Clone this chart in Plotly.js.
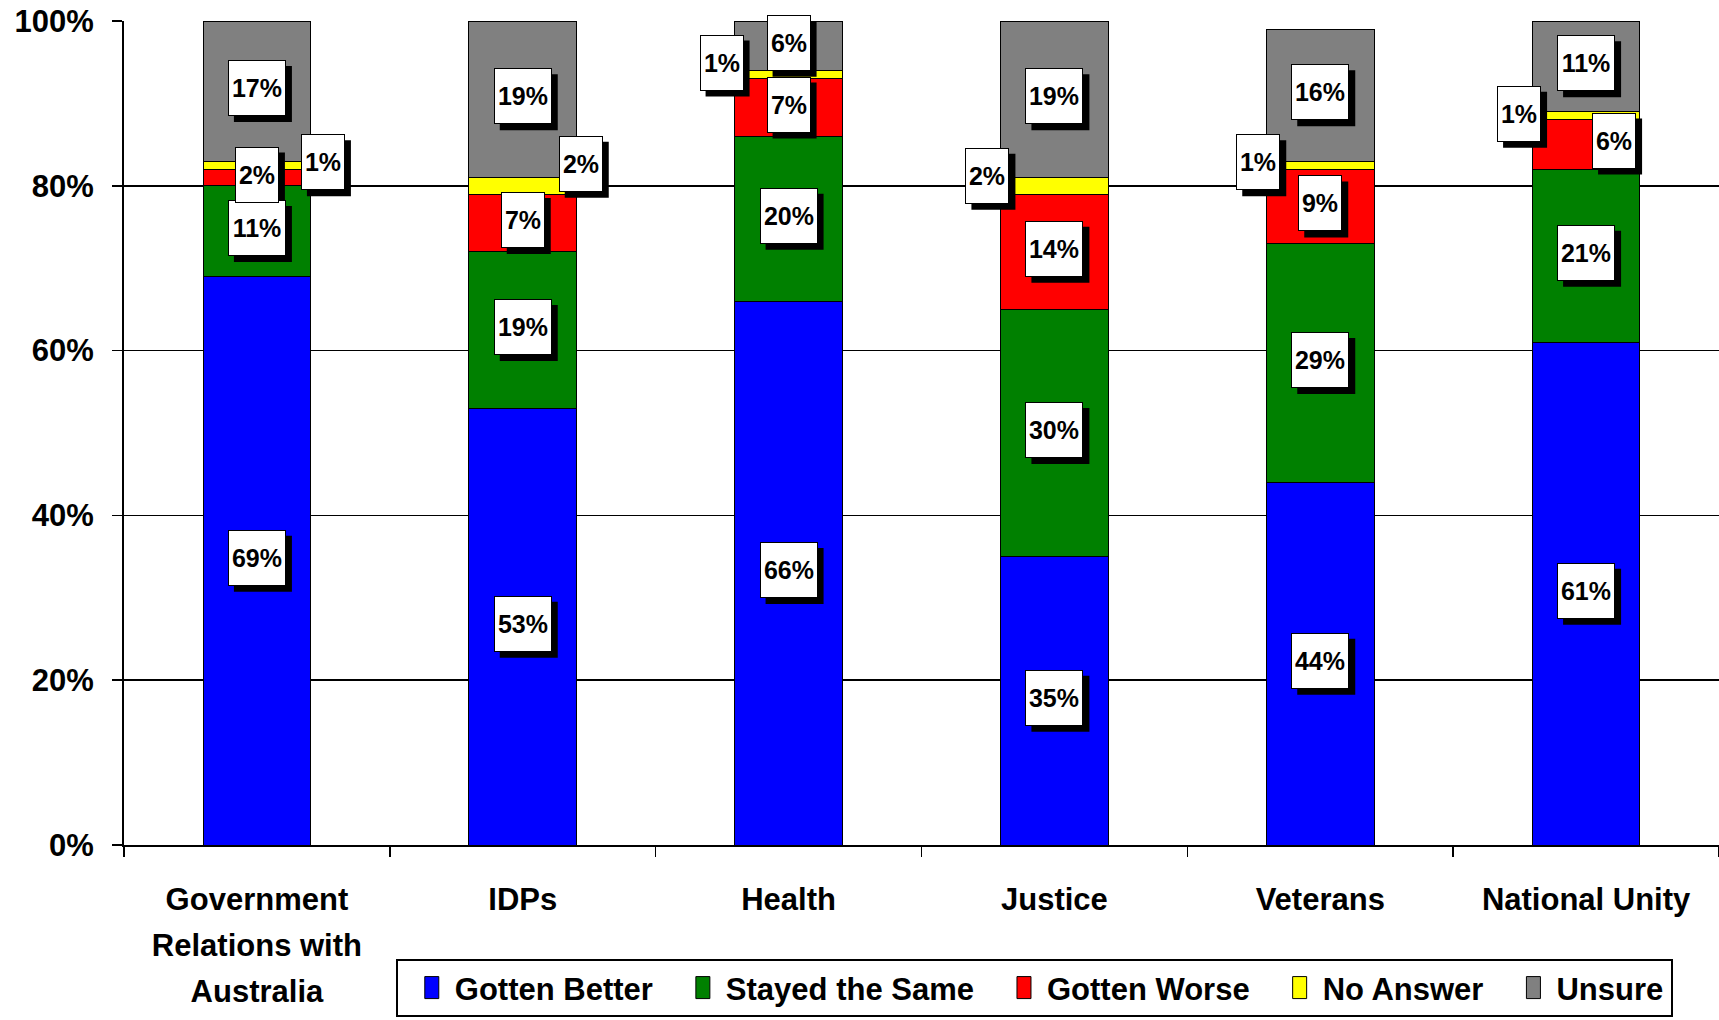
<!DOCTYPE html>
<html>
<head>
<meta charset="utf-8">
<script src="https://cdn.plot.ly/plotly-3.0.1.min.js"></script>
<style>
  html, body { margin: 0; padding: 0; background: #ffffff; }
  #chart { width: 1719px; height: 1020px; }
</style>
</head>
<body>
<div id="chart"></div>
<script>
// ---- data ----
var categories = ['Government<br>Relations with<br>Australia', 'IDPs', 'Health', 'Justice', 'Veterans', 'National Unity'];
var seriesNames = ['Gotten Better', 'Stayed the Same', 'Gotten Worse', 'No Answer', 'Unsure'];
var gottenBetter = [69, 53, 66, 35, 44, 61];
var stayedSame   = [11, 19, 20, 30, 29, 21];
var gottenWorse  = [2, 7, 7, 14, 9, 6];
var noAnswer     = [1, 2, 1, 2, 1, 1];
var unsure       = [17, 19, 6, 19, 16, 11];
var yTickValues  = [0, 20, 40, 60, 80, 100];
var yTickLabels  = ['0%', '20%', '40%', '60%', '80%', '100%'];

// ---- styling ----
var seriesValues = [gottenBetter, stayedSame, gottenWorse, noAnswer, unsure];
var seriesColors = ['#0000ff', '#008000', '#ff0000', '#ffff00', '#808080'];
var FONT = 'Liberation Sans, Arial, Helvetica, sans-serif';

// label nudges (pixels) for labels of thin segments: key = seriesIndex + '-' + categoryIndex
var labelShift = {
  '3-0': [66, 3],
  '3-1': [58, 22],
  '3-2': [-67, 12],
  '3-3': [-67, 10],
  '3-4': [-62, 3],
  '2-5': [28, 4],
  '3-5': [-67, 2]
};
var BOX_H = 54, SHADOW = 6;

var traces = seriesValues.map(function (vals, i) {
  return {
    type: 'bar',
    name: seriesNames[i],
    x: categories,
    y: vals,
    marker: { color: seriesColors[i], line: { color: '#000000', width: 1 } },
    hoverinfo: 'skip'
  };
});

var shapes = [], boxes = [];
var cum = categories.map(function () { return 0; });
seriesValues.forEach(function (vals, i) {
  vals.forEach(function (v, j) {
    var yc = cum[j] + v / 2;
    cum[j] += v;
    var s = labelShift[i + '-' + j] || [0, 3];
    var txt = v + '%';
    var w = txt.length > 2 ? 56 : 42;
    // drop shadow (pixel-sized rectangle anchored at the segment centre)
    shapes.push({
      type: 'rect', xref: 'x', yref: 'y', layer: 'above',
      xsizemode: 'pixel', ysizemode: 'pixel',
      xanchor: j, yanchor: yc,
      x0: s[0] - (w + 2) / 2 + SHADOW, x1: s[0] + (w + 2) / 2 + SHADOW,
      y0: s[1] - (BOX_H + 2) / 2 - SHADOW, y1: s[1] + (BOX_H + 2) / 2 - SHADOW,
      fillcolor: '#000000', line: { width: 0 }
    });
    boxes.push({
      x: categories[j], y: yc, xref: 'x', yref: 'y',
      text: txt, showarrow: false,
      width: w, height: BOX_H, borderpad: 0, borderwidth: 1,
      xshift: s[0], yshift: s[1],
      bgcolor: '#ffffff', bordercolor: '#000000',
      font: { family: FONT, size: 25, color: '#000000', weight: 'bold' }
    });
  });
});

var layout = {
  width: 1719, height: 1020,
  margin: { l: 124, r: 0, t: 21, b: 175, pad: 0 },
  paper_bgcolor: '#ffffff', plot_bgcolor: '#ffffff',
  font: { family: FONT, size: 31, color: '#000000', weight: 'bold' },
  barmode: 'stack',
  bargap: 0.595,
  showlegend: true,
  legend: {
    orientation: 'h', traceorder: 'normal',
    xref: 'container', yref: 'container',
    x: 0.6043, xanchor: 'center', y: 0.003, yanchor: 'bottom',
    bgcolor: '#ffffff', bordercolor: '#000000', borderwidth: 2,
    font: { family: FONT, size: 31, color: '#000000', weight: 'bold' },
    itemwidth: 58
  },
  xaxis: {
    type: 'category',
    tickson: 'boundaries',
    ticks: 'outside', ticklen: 10, tickwidth: 1.5, tickcolor: '#000000',
    showline: true, linecolor: '#000000', linewidth: 2,
    showgrid: false,
    ticklabelstandoff: 26,
    tickfont: { family: FONT, size: 31, color: '#000000', weight: 'bold' }
  },
  yaxis: {
    range: [0, 100],
    tickmode: 'array',
    tickvals: yTickValues,
    ticktext: yTickLabels,
    ticks: 'outside', ticklen: 10, tickwidth: 1.5, tickcolor: '#000000',
    showline: true, linecolor: '#000000', linewidth: 2,
    showgrid: true, gridcolor: '#000000', gridwidth: 1.5,
    zeroline: false,
    ticklabelstandoff: 12,
    tickfont: { family: FONT, size: 31, color: '#000000', weight: 'bold' }
  },
  shapes: shapes,
  annotations: boxes
};

Plotly.newPlot('chart', traces, layout, { staticPlot: true, displayModeBar: false }).then(function (gd) {
  // taller legend swatches like the reference
  gd.querySelectorAll('.legend .legendpoints path').forEach(function (p) {
    p.setAttribute('d', 'M7,11H-7V-11H7Z');
  });
  // bring legend text closer to its swatch, and trim the box's right side
  gd.querySelectorAll('.legend text.legendtext').forEach(function (t) {
    var x = parseFloat(t.getAttribute('x')) || 0;
    t.setAttribute('x', x - 11);
    t.querySelectorAll('tspan').forEach(function (ts) {
      if (ts.getAttribute('x') !== null) ts.setAttribute('x', x - 11);
    });
  });
  var bg = gd.querySelector('.legend rect.bg');
  if (bg) {
    var w = parseFloat(bg.getAttribute('width'));
    if (!isNaN(w)) bg.setAttribute('width', w - 9);
  }
  // wider line spacing in the multi-line category label
  gd.querySelectorAll('.xtick text tspan.line').forEach(function (t) {
    var dy = t.getAttribute('dy');
    if (dy && /em$/.test(dy)) {
      var v = parseFloat(dy);
      t.setAttribute('dy', (v * 1.48 / 1.3) + 'em');
    }
  });
});
</script>
</body>
</html>
